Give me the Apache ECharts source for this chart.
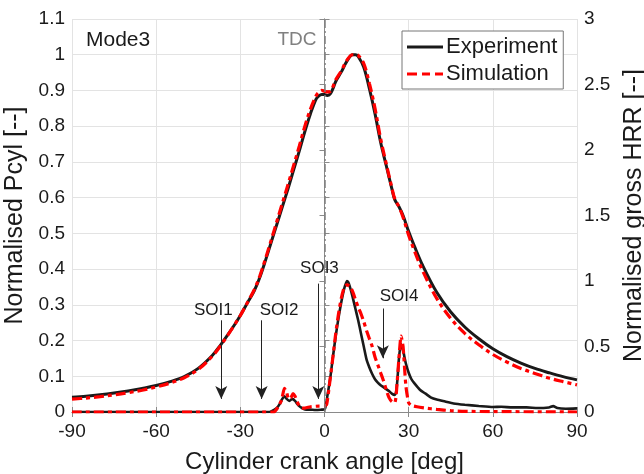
<!DOCTYPE html>
<html>
<head>
<meta charset="utf-8">
<script src="https://cdn.jsdelivr.net/npm/echarts@6/dist/echarts.min.js"></script>
<style>
  html, body { margin: 0; padding: 0; background: #fff; overflow: hidden; }
  #chart { width: 644px; height: 474px; }
</style>
</head>
<body>
<div id="chart"></div>
<script>
// Crank angle grid for the cylinder pressure traces [deg]
const pAngle = [-90, -85, -80, -75, -70, -65, -60, -55, -50, -45, -40, -37, -35, -32, -30, -27.5, -25, -23, -21, -19, -17, -15, -13, -11, -9, -7, -5, -3, -2, -1, 0, 1, 2, 3, 4, 6, 8, 10, 11, 12, 14, 16, 18, 20, 22, 24, 25, 26.5, 28, 30, 32, 35, 40, 45, 50, 55, 60, 65, 70, 75, 80, 85, 90];
// Normalised cylinder pressure, measured
const pExp = [0.041, 0.044, 0.048, 0.053, 0.059, 0.066, 0.074, 0.085, 0.099, 0.122, 0.158, 0.188, 0.21, 0.245, 0.27, 0.305, 0.34, 0.378, 0.425, 0.475, 0.525, 0.575, 0.625, 0.678, 0.73, 0.785, 0.835, 0.876, 0.885, 0.889, 0.889, 0.886, 0.89, 0.905, 0.925, 0.952, 0.982, 1.0, 1.0, 0.995, 0.965, 0.905, 0.835, 0.755, 0.69, 0.625, 0.595, 0.575, 0.55, 0.505, 0.465, 0.41, 0.335, 0.28, 0.238, 0.205, 0.177, 0.155, 0.137, 0.122, 0.11, 0.099, 0.09];
// Normalised cylinder pressure, simulated
const pSim = [0.036, 0.039, 0.043, 0.048, 0.054, 0.061, 0.07, 0.081, 0.096, 0.119, 0.156, 0.186, 0.209, 0.245, 0.27, 0.306, 0.343, 0.382, 0.43, 0.481, 0.533, 0.585, 0.637, 0.69, 0.744, 0.8, 0.848, 0.885, 0.895, 0.9, 0.898, 0.896, 0.897, 0.91, 0.93, 0.955, 0.985, 1.0, 1.0, 0.998, 0.975, 0.92, 0.85, 0.765, 0.695, 0.628, 0.598, 0.575, 0.545, 0.495, 0.452, 0.395, 0.318, 0.262, 0.22, 0.188, 0.161, 0.14, 0.122, 0.108, 0.095, 0.085, 0.076];

// Normalised gross heat release rate, measured
const hrrExpAngle = [-90, -20, -19, -17, -16, -15.3, -14.3, -13.5, -12.5, -11.5, -10.5, -10, -9, -8, -7, -5, -3, -1, 0, 0.5, 1, 2, 3, 4, 5, 6, 7, 8, 8.5, 9, 10, 11, 12, 13, 14, 15, 16, 17, 18, 19, 20, 21, 22, 23, 24, 25, 25.5, 26, 26.5, 27.2, 28, 29, 30, 31, 32, 34, 36, 38, 40, 43, 46, 50, 55, 60, 63, 67, 72, 76, 80, 81.5, 83, 86, 90];
const hrrExp = [0, 0, 0.005, 0.03, 0.06, 0.09, 0.12, 0.1, 0.085, 0.1, 0.085, 0.07, 0.045, 0.03, 0.02, 0.018, 0.015, 0.018, 0.02, 0.05, 0.12, 0.25, 0.42, 0.58, 0.72, 0.84, 0.94, 1.0, 0.99, 0.96, 0.88, 0.79, 0.7, 0.6, 0.5, 0.4, 0.34, 0.29, 0.25, 0.225, 0.205, 0.19, 0.175, 0.16, 0.14, 0.13, 0.15, 0.25, 0.4, 0.52, 0.47, 0.37, 0.3, 0.25, 0.22, 0.17, 0.14, 0.11, 0.095, 0.08, 0.065, 0.055, 0.046, 0.038, 0.04, 0.035, 0.035, 0.03, 0.035, 0.045, 0.03, 0.025, 0.028];

// Normalised gross heat release rate, simulated
const hrrSimAngle = [-90, -18, -17.5, -16.5, -15.3, -14.3, -13.5, -12.8, -12, -11.2, -10.5, -9.8, -9, -8, -7, -5, -2, 0, 0.8, 2, 3, 4, 5, 6, 7, 8, 9, 10, 11, 12, 13, 14, 15, 16, 17, 18, 19, 20, 21, 22, 23, 24, 25, 25.5, 26.5, 27.3, 28, 29, 30, 31, 33, 36, 40, 45, 50, 60, 90];
const hrrSim = [0, 0, 0.01, 0.04, 0.09, 0.18, 0.15, 0.1, 0.11, 0.14, 0.12, 0.08, 0.05, 0.03, 0.03, 0.04, 0.045, 0.045, 0.06, 0.25, 0.42, 0.6, 0.75, 0.87, 0.95, 0.97, 0.96, 0.92, 0.86, 0.8, 0.75, 0.69, 0.62, 0.56, 0.5, 0.42, 0.36, 0.3, 0.24, 0.17, 0.11, 0.08, 0.07, 0.12, 0.4, 0.58, 0.5, 0.2, 0.07, 0.05, 0.04, 0.03, 0.02, 0.01, 0.005, 0.003, 0];

// Axis ranges and tick spacing
const xRange = [-90, 90], xStep = 30;
const pRange = [0, 1.1], pStep = 0.1;
const hrrRange = [0, 3], hrrStep = 0.5;

// Start-of-injection events (crank angle of each arrow)
const soiNames = ['SOI1', 'SOI2', 'SOI3', 'SOI4'];
const soiAngles = [-36.8, -22.4, -2.2, 20.8];

// Arrow extents and label anchors in HRR units
const soiArrowTop = [0.7, 0.7, 0.98, 0.79];
const soiArrowTip = [0.1, 0.1, 0.1, 0.41];
const soiLabelAt = [[-39.6, 0.78], [-16.2, 0.78], [-1.8, 1.1], [26.6, 0.885]];

const FONT = "'Liberation Sans', Arial, Helvetica, sans-serif";
const INK = '#1a1a1a';
const AXIS = '#8a8a8a';
const RED = '#ff0000';
const redDash = [10, 4, 4, 4];

// Legend keys: a solid bar and a dashed bar
const solidKey = 'path://M0,0h36v3h-36z';
const dashedKey = 'path://M0,0h10v3h-10z M15,0h8v3h-8z M28,0h8v3h-8z';

const zip = (a, b) => a.map((v, i) => [v, b[i]]);

const chart = echarts.init(document.getElementById('chart'));

const soiArrows = soiAngles.map((a, i) => [
  { coord: [a, soiArrowTop[i]], symbol: 'none' },
  { coord: [a, soiArrowTip[i]], symbol: 'arrow', symbolSize: [9, 13] }
]);
const soiLabels = soiNames.map((n, i) => ({
  coord: soiLabelAt[i], value: n
}));

const option = {
  animation: false,
  textStyle: { fontFamily: FONT },
  grid: { left: 72, right: 67, top: 19, bottom: 62, containLabel: false, outerBoundsMode: 'none' },
  legend: {
    orient: 'vertical',
    left: 402, top: 31,
    padding: [5, 6, 4, 5],
    itemGap: 5,
    itemWidth: 36, itemHeight: 3,
    backgroundColor: '#fff',
    borderColor: '#777', borderWidth: 1,
    textStyle: { fontSize: 22, color: INK, fontFamily: FONT, padding: [0, 0, 0, -2] },
    data: [
      { name: 'Experiment', icon: solidKey },
      { name: 'Simulation', icon: dashedKey }
    ]
  },
  graphic: [{
    type: 'text', left: 86, top: 30,
    style: { text: 'Mode3', font: "21px " + FONT, fill: INK }
  }],
  xAxis: [{
    type: 'value', min: xRange[0], max: xRange[1], interval: xStep,
    name: 'Cylinder crank angle [deg]', nameLocation: 'middle', nameGap: 38,
    nameTextStyle: { fontSize: 24, color: INK },
    axisLine: { lineStyle: { color: AXIS } },
    axisTick: { inside: true, length: 5, lineStyle: { color: AXIS } },
    axisLabel: { fontSize: 19, color: INK, margin: 10 },
    splitLine: { show: true, lineStyle: { color: '#e3e3e3' } }
  }, {
    type: 'value', position: 'top', min: xRange[0], max: xRange[1], interval: xStep,
    axisLine: { show: true, lineStyle: { color: AXIS } },
    axisTick: { inside: true, length: 5, lineStyle: { color: AXIS } },
    axisLabel: { show: false },
    splitLine: { show: false }
  }],
  yAxis: [{
    type: 'value', min: pRange[0], max: pRange[1], interval: pStep,
    name: 'Normalised Pcyl [--]', nameLocation: 'middle', nameGap: 38,
    nameTextStyle: { fontSize: 25, color: INK },
    axisLine: { show: true, lineStyle: { color: AXIS } },
    axisTick: { show: true, inside: true, length: 5, lineStyle: { color: AXIS } },
    axisLabel: { fontSize: 19, color: INK, margin: 7, formatter: v => String(+v.toFixed(1)) },
    splitLine: { show: true, lineStyle: { color: '#e3e3e3' } }
  }, {
    type: 'value', position: 'right', min: hrrRange[0], max: hrrRange[1], interval: hrrStep,
    name: 'Normalised gross HRR [--]', nameLocation: 'middle', nameGap: 40, nameRotate: 90,
    nameTextStyle: { fontSize: 25, color: INK },
    axisLine: { show: true, lineStyle: { color: AXIS } },
    axisTick: { show: true, inside: true, length: 5, lineStyle: { color: AXIS } },
    axisLabel: { fontSize: 19, color: INK, margin: 7, formatter: v => String(+v.toFixed(1)) },
    splitLine: { show: false }
  }],
  series: [
    {
      name: 'Experiment', type: 'line', xAxisIndex: 0, yAxisIndex: 0,
      data: zip(pAngle, pExp), showSymbol: false, symbol: 'none', smooth: 0.35,
      lineStyle: { color: INK, width: 3 }, itemStyle: { color: INK }, z: 2,
      markLine: {
        silent: true, symbol: 'none',
        lineStyle: { color: '#808080', width: 1.5, type: [8, 3, 2, 3] },
        label: { show: false },
        data: [{ xAxis: 0 }]
      },
      markPoint: {
        silent: true, symbol: 'circle', symbolSize: 0,
        label: { show: true, position: 'inside', fontSize: 19, color: '#808080', formatter: '{b}' },
        data: [{ name: 'TDC', coord: [-9.8, 1.041] }]
      }
    },
    {
      name: 'Experiment', type: 'line', xAxisIndex: 0, yAxisIndex: 1,
      data: zip(hrrExpAngle, hrrExp), showSymbol: false, symbol: 'none', smooth: 0.2,
      lineStyle: { color: INK, width: 2.6 }, itemStyle: { color: INK }, z: 2
    },
    {
      name: 'Simulation', type: 'line', xAxisIndex: 0, yAxisIndex: 0,
      data: zip(pAngle, pSim), showSymbol: false, symbol: 'none', smooth: 0.35,
      lineStyle: { color: RED, width: 3.2, type: redDash }, itemStyle: { color: RED }, z: 3
    },
    {
      name: 'Simulation', type: 'line', xAxisIndex: 0, yAxisIndex: 1,
      data: zip(hrrSimAngle, hrrSim), showSymbol: false, symbol: 'none', smooth: 0.2,
      lineStyle: { color: RED, width: 3.2, type: redDash }, itemStyle: { color: RED }, z: 3,
      markLine: {
        silent: true, animation: false,
        lineStyle: { color: '#222', width: 1, type: 'solid' },
        label: { show: false },
        data: soiArrows
      },
      markPoint: {
        silent: true, symbol: 'circle', symbolSize: 0,
        label: { show: true, position: 'inside', fontSize: 17, color: INK, formatter: p => p.value },
        data: soiLabels
      }
    }
  ]
};

chart.setOption(option);
</script>
</body>
</html>
